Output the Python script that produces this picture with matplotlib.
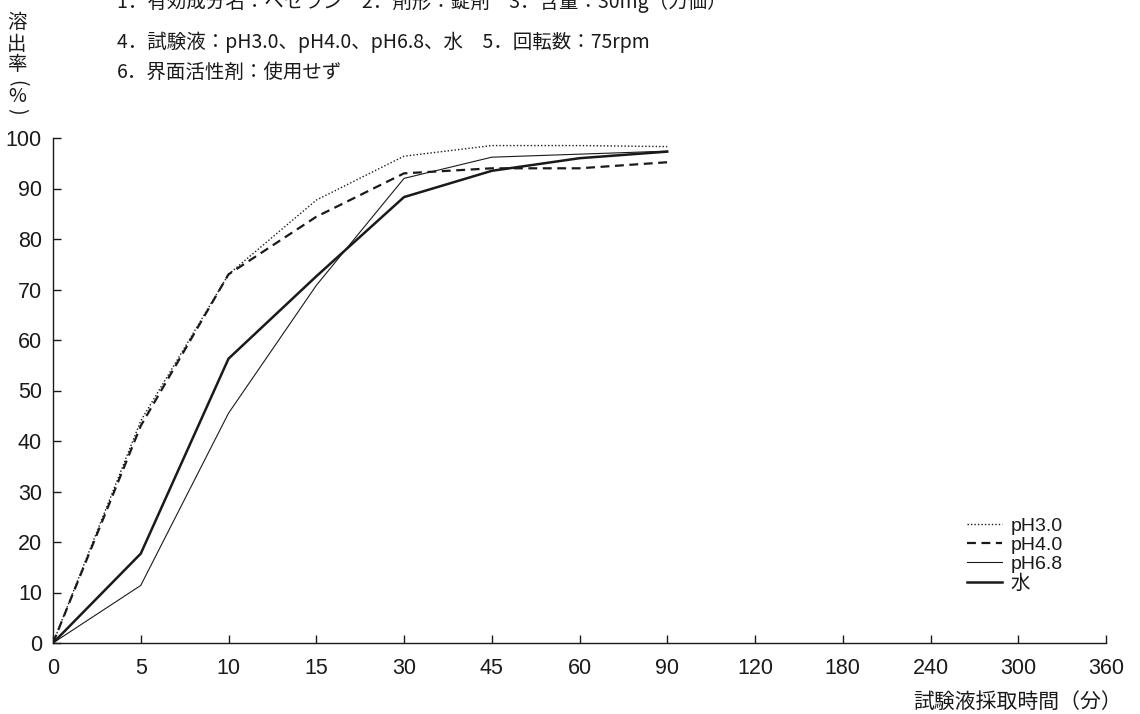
import numpy as np
import matplotlib
matplotlib.use('Agg')
import matplotlib.pyplot as plt

# data
time_labels = ['0', '5', '10', '15', '30', '45', '60', '90', '120', '180', '240', '300', '360']
ph30 = [0, 44.0, 73.0, 87.7, 96.4, 98.5, 98.5, 98.3]
ph40 = [0, 43.0, 73.0, 84.4, 93.0, 94.0, 94.0, 95.2]
ph68 = [0, 11.4, 45.5, 70.8, 92.0, 96.2, 96.8, 97.4]
water = [0, 17.7, 56.3, 72.6, 88.3, 93.5, 96.0, 97.3]
series_labels = ['pH3.0', 'pH4.0', 'pH6.8', '水']
yticks = [0, 10, 20, 30, 40, 50, 60, 70, 80, 90, 100]

W, H = 1140, 714
ink = '#1a1a1a'

fig = plt.figure(figsize=(W / 100, H / 100), dpi=100)
fig.patch.set_facecolor('white')

def fx(px):
    return px / W

def fy(py):
    return 1 - py / H

ax = fig.add_axes([fx(53), fy(643), fx(1106) - fx(53), fy(138) - fy(643)])

x = np.arange(len(ph30))
ax.plot(x, ph30, color=ink, lw=1.0, linestyle=(0, (1, 1.5)), label=series_labels[0])
ax.plot(x, ph40, color=ink, lw=1.6, linestyle=(0, (4, 2.5)), label=series_labels[1])
ax.plot(x, ph68, color=ink, lw=0.8, label=series_labels[2])
ax.plot(x, water, color=ink, lw=1.8, label=series_labels[3])

ax.set_xlim(0, len(time_labels) - 1)
ax.set_ylim(0, 100)
ax.set_xticks(np.arange(len(time_labels)))
ax.set_xticklabels(time_labels)
ax.set_yticks(yticks)

for s in ['top', 'right']:
    ax.spines[s].set_visible(False)
for s in ['left', 'bottom']:
    ax.spines[s].set_color(ink)
    ax.spines[s].set_linewidth(1.0)

ax.tick_params(axis='both', direction='in', length=6, width=1.0, color=ink, labelcolor=ink)
ax.tick_params(axis='x', pad=11)
ax.tick_params(axis='y', pad=8)
for lab in ax.get_xticklabels() + ax.get_yticklabels():
    lab.set_family('Liberation Sans')
    lab.set_fontsize(15.5)

# legend
leg = ax.legend(loc='upper left', bbox_to_anchor=(fx(967), fy(517)), bbox_transform=fig.transFigure,
                frameon=False, borderpad=0, borderaxespad=0, handlelength=1.8, handletextpad=0.45,
                labelspacing=0.08, prop={'family': ['Liberation Sans', 'Noto Sans CJK JP'], 'size': 14})
for t in leg.get_texts():
    t.set_color(ink)

# header text
jp = ['Noto Sans CJK JP', 'DejaVu Sans']
fig.text(fx(117), fy(2), '1．有効成分名：ベセラン　2．剤形：錠剤　3．含量：30mg（力価）',
         family=jp, fontsize=14, va='center', ha='left', color=ink)
fig.text(fx(117), fy(42), '4．試験液：pH3.0、pH4.0、pH6.8、水　5．回転数：75rpm',
         family=jp, fontsize=14, va='center', ha='left', color=ink)
fig.text(fx(117), fy(72), '6．界面活性剤：使用せず',
         family=jp, fontsize=14, va='center', ha='left', color=ink)

# vertical y label (parentheses turned for vertical writing)
ylab_chars = ['溶', '出', '率', '(', '%', ')']
ylab_pos = [22, 44, 65, 83, 97, 111]
ylab_rot = [0, 0, 0, -90, 0, -90]
for ch, py, rot in zip(ylab_chars, ylab_pos, ylab_rot):
    fig.text(fx(17), fy(py), ch, family=jp, fontsize=14, va='center', ha='center',
             rotation=rot, color=ink)

# x label
fig.text(fx(1122), fy(702), '試験液採取時間（分）', family=jp, fontsize=15,
         va='center', ha='right', color=ink)

fig.savefig('out.png', dpi=100, facecolor='white')
